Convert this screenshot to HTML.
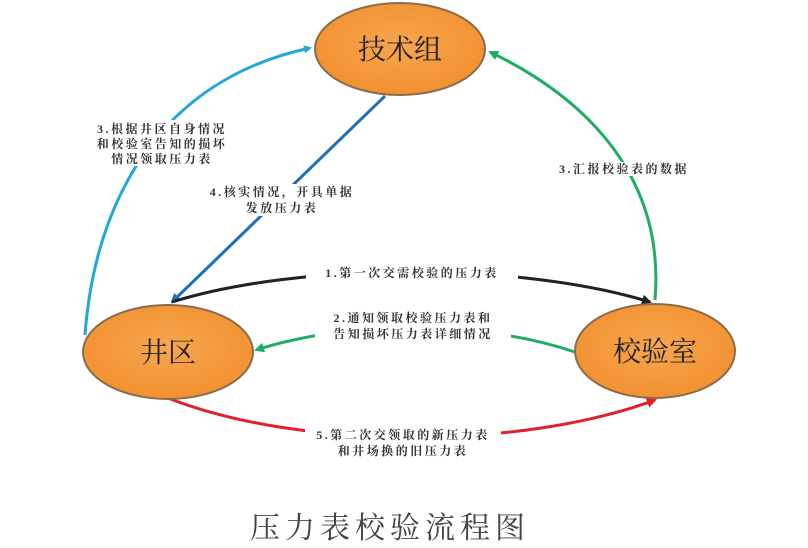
<!DOCTYPE html>
<html><head><meta charset="utf-8"><style>
html,body{margin:0;padding:0;background:#fff;}
svg{display:block;}
text{font-family:"Liberation Serif","Noto Serif CJK SC","Noto Sans CJK SC",serif;}
</style></head><body>
<svg width="808" height="548" viewBox="0 0 808 548" xmlns="http://www.w3.org/2000/svg">
<defs>
<radialGradient id="g" cx="50%" cy="45%" r="60%">
<stop offset="0" stop-color="#f8a54e"/><stop offset="1" stop-color="#f0902e"/>
</radialGradient>
<marker id="aC" markerWidth="8" markerHeight="8" refX="6" refY="4" orient="auto" markerUnits="userSpaceOnUse"><path d="M0,0 L8,4 L0,8z" fill="#22a7d8"/></marker>
<marker id="aB" markerWidth="10" markerHeight="10" refX="8" refY="5" orient="auto" markerUnits="userSpaceOnUse"><path d="M0,0 L10,5 L0,10z" fill="#1f6fb5"/></marker>
<marker id="aG" markerWidth="10" markerHeight="10" refX="8" refY="5" orient="auto" markerUnits="userSpaceOnUse"><path d="M0,0 L10,5 L0,10z" fill="#1fad62"/></marker>
<marker id="aK" markerWidth="10" markerHeight="10" refX="8" refY="5" orient="auto" markerUnits="userSpaceOnUse"><path d="M0,0 L10,5 L0,10z" fill="#222"/></marker>
<marker id="aR" markerWidth="10" markerHeight="10" refX="8" refY="5" orient="auto" markerUnits="userSpaceOnUse"><path d="M0,0 L10,5 L0,10z" fill="#e0202a"/></marker>
</defs>
<g fill="none" stroke-width="3">
<path d="M85,335 C95,200 160,80 310,48" stroke="#22a7d8" marker-end="url(#aC)"/>
<path d="M385,96 L172,302" stroke="#1f6fb5" marker-end="url(#aB)"/>
<path d="M655,300 C665,180 590,100 490,52" stroke="#1fad62" marker-end="url(#aG)"/>
<path d="M172,302 C300,262 520,262 650,302" stroke="#222" marker-end="url(#aK)"/>
<path d="M575,352 C480,320 350,320 256,350" stroke="#1fad62" marker-end="url(#aG)"/>
<path d="M168,398 C300,450 520,450 655,400" stroke="#e0202a" marker-end="url(#aR)"/>
</g>
<g fill="url(#g)" stroke="#8c6b4a" stroke-width="2">
<ellipse cx="400" cy="49" rx="85" ry="46"/>
<ellipse cx="168" cy="352" rx="85" ry="47"/>
<ellipse cx="655" cy="351" rx="80" ry="47"/>
</g>
<g font-size="28" text-anchor="middle" fill="#222">
<text x="400" y="59">技术组</text>
<text x="168" y="362">井区</text>
<text x="655" y="361">校验室</text>
</g>
<g font-size="12" text-anchor="middle" fill="#333" font-weight="bold" letter-spacing="2.5">
<rect x="88" y="120" width="148" height="46" fill="#fff"/>
<text x="162" y="133">3.根据井区自身情况</text>
<text x="162" y="148">和校验室告知的损坏</text>
<text x="162" y="163">情况领取压力表</text>
<rect x="193" y="184" width="178" height="32" fill="#fff"/>
<text x="282" y="196">4.核实情况，开具单据</text>
<text x="282" y="212">发放压力表</text>
<rect x="548" y="162" width="152" height="14" fill="#fff"/>
<text x="624" y="173">3.汇报校验表的数据</text>
<rect x="306" y="266" width="212" height="15" fill="#fff"/>
<text x="412" y="277">1.第一次交需校验的压力表</text>
<rect x="315" y="310" width="196" height="32" fill="#fff"/>
<text x="413" y="322">2.通知领取校验压力表和</text>
<text x="413" y="338">告知损坏压力表详细情况</text>
<rect x="305" y="427" width="196" height="32" fill="#fff"/>
<text x="403" y="439">5.第二次交领取的新压力表</text>
<text x="403" y="455">和井场换的旧压力表</text>
</g>
<text x="390" y="538" font-size="30" text-anchor="middle" fill="#444" letter-spacing="5">压力表校验流程图</text>
</svg>
</body></html>
